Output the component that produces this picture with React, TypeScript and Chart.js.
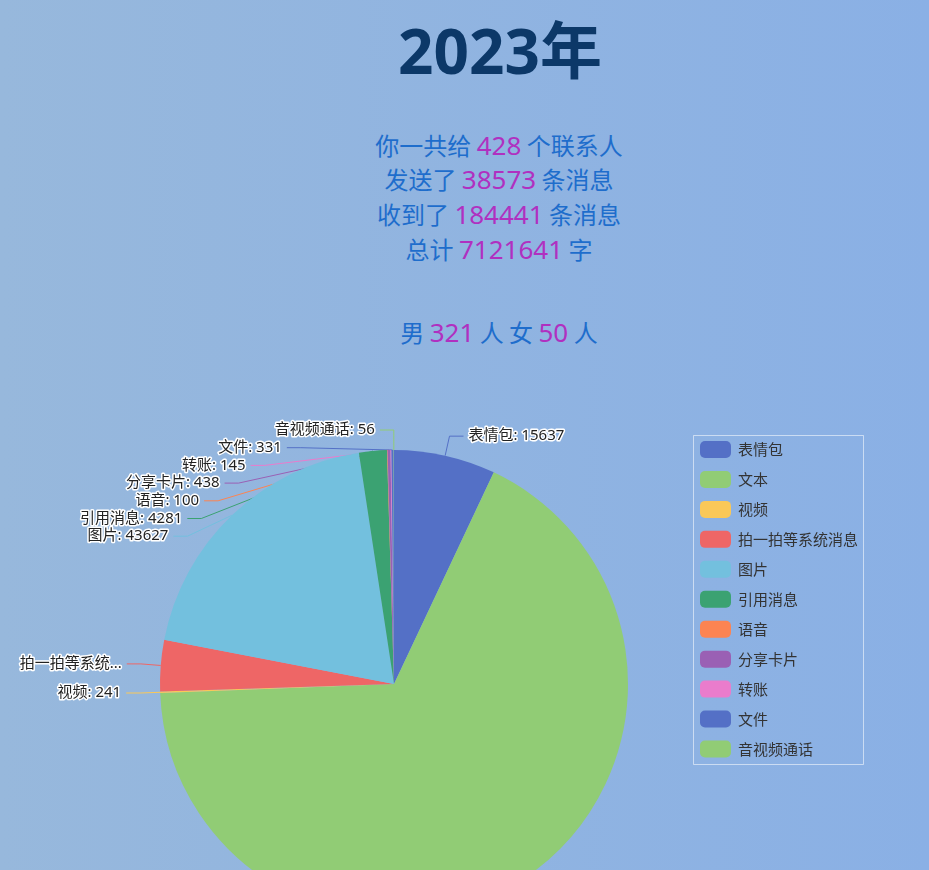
import React, { useEffect, useRef } from "react";
import { Chart, registerables } from "chart.js";

Chart.register(...registerables);

// ---- data ----
const categories = ["表情包", "文本", "视频", "拍一拍等系统消息", "图片", "引用消息", "语音", "分享卡片", "转账", "文件", "音视频通话"];
const values = [15637, 150200, 241, 7900, 43627, 4281, 100, 438, 145, 331, 56];
const colors = ["#5470c6", "#91cc75", "#fac858", "#ee6666", "#73c0de", "#3ba272", "#fc8452", "#9a60b4", "#ea7ccc", "#5470c6", "#91cc75"];

const yearTitle = "2023年";
const contactCount = 428;
const sentCount = 38573;
const receivedCount = 184441;
const totalChars = 7121641;
const maleCount = 321;
const femaleCount = 50;

// ---- style constants ----
const LABEL_FONT = '15px "Noto Sans", "Noto Sans CJK SC", sans-serif';
const LEGEND_FONT = '15px "Noto Sans CJK SC", sans-serif';
const LEN1 = 20;
const LEN2 = 14;
const GAP = 5;
const LINE_H = 17.7;
const LEFT_LIMIT = 18;

type Item = {
  i: number;
  dir: number;
  cx: number;
  cy: number;
  rA: number;
  p0: [number, number];
  y: number;
  x1: number;
  x2: number;
  text: string;
};

function layoutLabels(chart: any): Item[] {
  const meta = chart.getDatasetMeta(0);
  const items: Item[] = [];
  meta.data.forEach((arc: any, i: number) => {
    const p = arc.getProps(["x", "y", "startAngle", "endAngle", "outerRadius"], true);
    const mid = (p.startAngle + p.endAngle) / 2;
    const c = Math.cos(mid);
    const s = Math.sin(mid);
    const rA = p.outerRadius + LEN1;
    items.push({
      i,
      dir: c >= 0 ? 1 : -1,
      cx: p.x,
      cy: p.y,
      rA,
      p0: [p.x + c * p.outerRadius, p.y + s * p.outerRadius],
      y: p.y + s * rA,
      x1: p.x + c * rA,
      x2: 0,
      text: categories[i] + ": " + values[i],
    });
  });
  [1, -1].forEach((dir) => {
    const side = items.filter((it) => it.dir === dir).sort((a, b) => a.y - b.y);
    let prev = -Infinity;
    let shifted = false;
    side.forEach((it) => {
      const ny = Math.max(it.y, prev + LINE_H);
      if (ny !== it.y) shifted = true;
      it.y = ny;
      prev = ny;
    });
    if (shifted) {
      side.forEach((it) => {
        const dy = it.y - it.cy;
        const dx = Math.sqrt(Math.max(0, it.rA * it.rA - dy * dy));
        it.x1 = it.cx + dir * dx;
      });
    }
    side.forEach((it) => {
      it.x2 = it.x1 + dir * LEN2;
    });
  });
  return items;
}

const pieLabelPlugin = {
  id: "pieLabels",
  beforeDatasetsDraw(chart: any) {
    const ctx = chart.ctx;
    const items = layoutLabels(chart);
    (chart as any).$labelItems = items;
    ctx.save();
    ctx.lineWidth = 1;
    items.forEach((it) => {
      ctx.strokeStyle = colors[it.i];
      ctx.beginPath();
      ctx.moveTo(it.p0[0], it.p0[1]);
      ctx.lineTo(it.x1, it.y);
      ctx.lineTo(it.x2, it.y);
      ctx.stroke();
    });
    ctx.restore();
  },
  afterDatasetsDraw(chart: any) {
    const ctx = chart.ctx;
    const items: Item[] = (chart as any).$labelItems || [];
    ctx.save();
    ctx.font = LABEL_FONT;
    ctx.textBaseline = "middle";
    ctx.lineJoin = "round";
    items.forEach((it) => {
      const tx = it.x2 + it.dir * GAP;
      let text = it.text;
      if (it.dir < 0) {
        const avail = tx - LEFT_LIMIT;
        if (ctx.measureText(text).width > avail) {
          let t = text;
          while (t.length > 0 && ctx.measureText(t + "...").width > avail) t = t.slice(0, -1);
          text = t + "...";
        }
      }
      ctx.textAlign = it.dir > 0 ? "left" : "right";
      ctx.strokeStyle = "#ffffff";
      ctx.lineWidth = 3;
      ctx.strokeText(text, tx, it.y);
      ctx.fillStyle = "#222222";
      ctx.fillText(text, tx, it.y);
    });

    // legend
    ctx.font = LEGEND_FONT;
    const lx = 693.5;
    const ly = 55.5;
    const lw = 170;
    const lh = 329;
    ctx.strokeStyle = "rgba(255,255,255,0.55)";
    ctx.lineWidth = 1;
    ctx.strokeRect(lx, ly, lw, lh);
    ctx.textAlign = "left";
    categories.forEach((name, i) => {
      const cyRow = 69.5 + i * 29.95;
      ctx.fillStyle = colors[i];
      ctx.beginPath();
      (ctx as any).roundRect(700, cyRow - 8.5, 31, 17, 5);
      ctx.fill();
      ctx.fillStyle = "#333333";
      ctx.fillText(name, 738, cyRow);
    });
    ctx.restore();
  },
};

function PieChart() {
  const ref = useRef<HTMLCanvasElement | null>(null);
  useEffect(() => {
    if (!ref.current) return;
    const chart = new Chart(ref.current, {
      type: "pie",
      data: {
        labels: categories,
        datasets: [
          {
            data: values,
            backgroundColor: colors,
            borderWidth: 0,
            hoverOffset: 0,
            offset: 0,
          },
        ],
      },
      options: {
        responsive: false,
        devicePixelRatio: 1,
        animation: false,
        events: [],
        layout: { padding: { left: 160, right: 301, top: 70, bottom: 22 } },
        plugins: {
          legend: { display: false },
          tooltip: { enabled: false },
        },
      },
      plugins: [pieLabelPlugin],
    } as any);
    return () => chart.destroy();
  }, []);
  return (
    <canvas
      ref={ref}
      width={929}
      height={560}
      style={{ position: "absolute", left: 0, top: 380, width: 929, height: 560 }}
    />
  );
}

const blue = "#1e6dcc";
const purple = "#b030c0";

function Num({ v }: { v: number }) {
  return <span style={{ color: purple, fontSize: 26, fontFamily: '"Noto Sans", sans-serif' }}>{v}</span>;
}

export default function App() {
  const lineStyle: React.CSSProperties = { height: 34.7, lineHeight: "34.7px" };
  return (
    <div
      style={{
        position: "fixed",
        left: 0,
        top: 0,
        width: "100vw",
        height: "100vh",
        overflow: "hidden",
        background: "linear-gradient(to right, #97b8dc, #8ab0e5)",
        fontFamily: '"Noto Sans CJK SC", "Microsoft YaHei", sans-serif',
      }}
    >
      <div
        style={{
          position: "absolute",
          left: 0,
          width: 1000,
          top: 12,
          textAlign: "center",
          fontSize: 62,
          fontWeight: 700,
          lineHeight: "76px",
          color: "#0c3868",
          fontFamily: '"Noto Sans", "Noto Sans CJK SC", sans-serif',
        }}
      >
        {yearTitle}
      </div>
      <div
        style={{
          position: "absolute",
          left: 0,
          width: 998,
          top: 127.5,
          textAlign: "center",
          fontSize: 24,
          color: blue,
        }}
      >
        <div style={lineStyle}>
          你一共给 <Num v={contactCount} /> 个联系人
        </div>
        <div style={lineStyle}>
          发送了 <Num v={sentCount} /> 条消息
        </div>
        <div style={lineStyle}>
          收到了 <Num v={receivedCount} /> 条消息
        </div>
        <div style={lineStyle}>
          总计 <Num v={totalChars} /> 字
        </div>
      </div>
      <div
        style={{
          position: "absolute",
          left: 0,
          width: 998,
          top: 314.6,
          textAlign: "center",
          fontSize: 24,
          color: blue,
          ...lineStyle,
        }}
      >
        男 <Num v={maleCount} /> 人 女 <Num v={femaleCount} /> 人
      </div>
      <PieChart />
    </div>
  );
}
